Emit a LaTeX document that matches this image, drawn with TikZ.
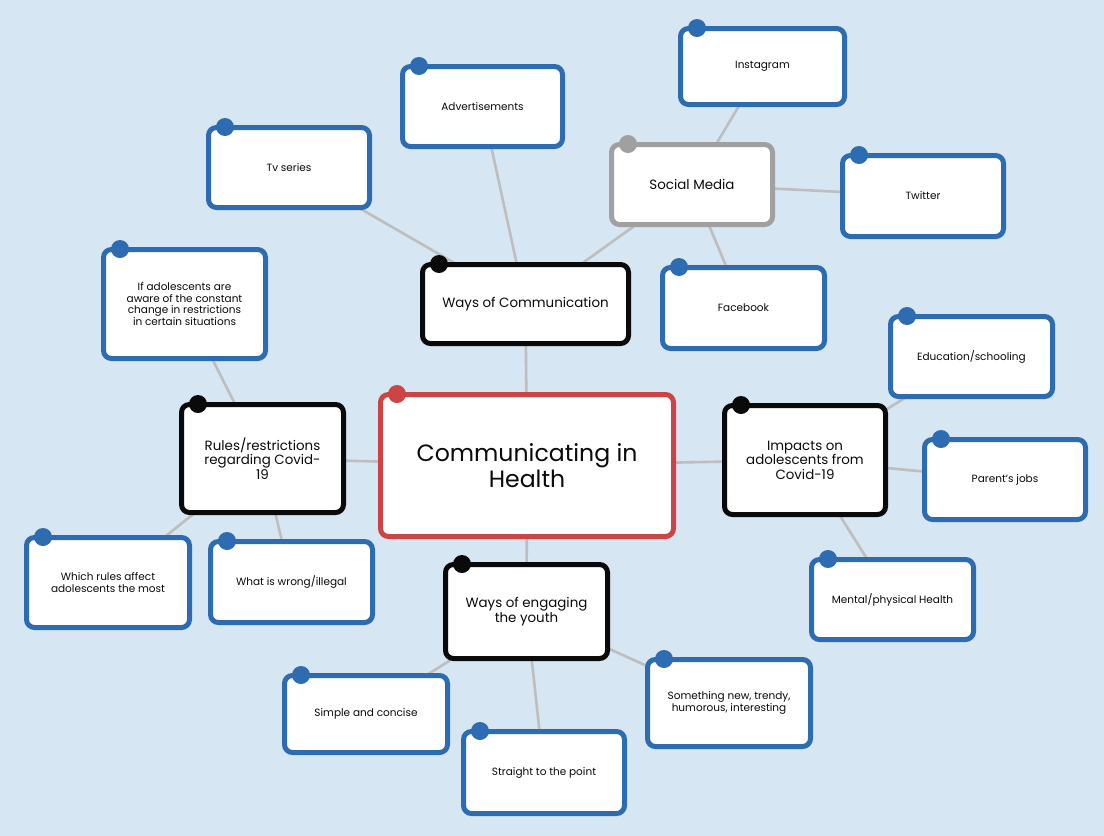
\documentclass[tikz,border=0pt]{standalone}
\usepackage{fontspec}
\setmainfont{Poppins}
\usetikzlibrary{backgrounds}
\definecolor{bgc}{RGB}{214,230,242}
\definecolor{bluec}{RGB}{46,108,178}
\definecolor{redc}{RGB}{204,68,68}
\definecolor{grayc}{RGB}{160,160,160}
\definecolor{blackc}{RGB}{10,10,10}
\definecolor{connc}{RGB}{190,190,190}
\definecolor{txtc}{RGB}{10,10,10}
\newcommand\mmbox[8][]{%
  \node[mbox,#1,draw=#3,minimum width=#6pt,minimum height=#7pt] (#2) at (#4,#5) {#8};
  \fill[#3] ([xshift=16.5pt,yshift=0.5pt]#2.north west) circle (9pt);
}
\tikzset{
  mbox/.style={rectangle,rounded corners=8pt,line width=5pt,fill=white,
    inner sep=0pt,outer sep=0pt,align=center,text=txtc},
  conn/.style={draw=connc,line width=2.6pt},
  fsmall/.style={font=\fontsize{10.5}{11.4}\selectfont},
  fmid/.style={font=\fontsize{13.4}{14.6}\selectfont},
  fbig/.style={font=\fontsize{23.6}{25.5}\selectfont},
}
\begin{document}
\begin{tikzpicture}[x=1pt,y=-1pt]
\useasboundingbox (0,0) rectangle (1104,836);
% central and level 1
\mmbox[fbig]{center}{redc}{527}{465.5}{293}{142}{Communicating in\\Health}
\mmbox[fmid]{woc}{blackc}{525.5}{304}{206}{79}{Ways of Communication}
\mmbox[fmid]{sm}{grayc}{692}{184.5}{161}{80}{Social Media}
\mmbox[fmid]{rules}{blackc}{262.5}{458.5}{162}{108}{Rules/restrictions\\regarding Covid-\\19}
\mmbox[fmid]{impacts}{blackc}{805}{460}{161}{109}{Impacts on\\adolescents from\\Covid-19}
\mmbox[fmid]{engage}{blackc}{526.5}{611.5}{162}{94}{Ways of engaging\\the youth}
\mmbox[fsmall]{insta}{bluec}{762.5}{66.5}{164}{76}{Instagram}
\mmbox[fsmall]{twitter}{bluec}{923}{196}{161}{81}{Twitter}
\mmbox[fsmall]{facebook}{bluec}{743.5}{308}{162}{81}{Facebook}
\mmbox[fsmall]{ads}{bluec}{482.5}{106.5}{160}{80}{Advertisements}
\mmbox[fsmall]{tv}{bluec}{289}{167.5}{161}{80}{Tv series}
\mmbox[fsmall]{ifadol}{bluec}{184.5}{304}{162}{109}{If adolescents are\\aware of the constant\\change in restrictions\\in certain situations}
\mmbox[fsmall]{which}{bluec}{108}{582.5}{163}{90}{Which rules affect\\adolescents the most}
\mmbox[fsmall]{wrong}{bluec}{291.5}{582}{162}{81}{What is wrong/illegal}
\mmbox[fsmall]{edu}{bluec}{971.5}{356.5}{162}{80}{Education/schooling}
\mmbox[fsmall]{parent}{bluec}{1005}{479.5}{161}{80}{Parent's jobs}
\mmbox[fsmall]{mental}{bluec}{892.5}{599.5}{162}{80}{Mental/physical Health}
\mmbox[fsmall]{simple}{bluec}{366}{714}{163}{77}{Simple and concise}
\mmbox[fsmall]{straight}{bluec}{544}{772.5}{161}{82}{Straight to the point}
\mmbox[fsmall]{something}{bluec}{729}{703}{163}{87}{Something new, trendy,\\humorous, interesting}
\begin{scope}[on background layer]
\fill[bgc] (0,0) rectangle (1104,836);
\draw[conn] (center) -- (woc);
\draw[conn] (center) -- (rules);
\draw[conn] (center) -- (impacts);
\draw[conn] (center) -- (engage);
\draw[conn] (woc) -- (ads);
\draw[conn] (woc) -- (tv);
\draw[conn] (woc) -- (sm);
\draw[conn] (sm) -- (insta);
\draw[conn] (sm) -- (twitter);
\draw[conn] (sm) -- (facebook);
\draw[conn] (rules) -- (ifadol);
\draw[conn] (rules) -- (which);
\draw[conn] (rules) -- (wrong);
\draw[conn] (impacts) -- (edu);
\draw[conn] (impacts) -- (parent);
\draw[conn] (impacts) -- (mental);
\draw[conn] (engage) -- (simple);
\draw[conn] (engage) -- (straight);
\draw[conn] (engage) -- (something);
\end{scope}
\end{tikzpicture}
\end{document}
